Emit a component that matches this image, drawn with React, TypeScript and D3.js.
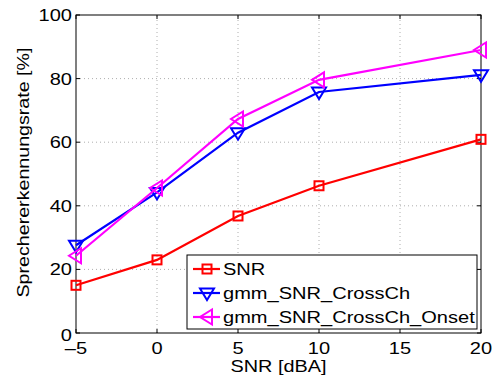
import React from "react";
import * as d3 from "d3";

const xValues = [-5, 0, 5, 10, 20];
const snr = [15.0, 23.0, 36.8, 46.3, 60.9];
const crossCh = [27.6, 44.2, 63.0, 75.8, 81.2];
const onset = [24.3, 45.6, 67.3, 79.6, 89.0];
const xTicks = [-5, 0, 5, 10, 15, 20];
const yTicks = [0, 20, 40, 60, 80, 100];
const seriesNames = ["SNR", "gmm_SNR_CrossCh", "gmm_SNR_CrossCh_Onset"];
const seriesColors = ["#ff0000", "#0000ff", "#ff00ff"];
const seriesMarkers = ["square", "down", "left"];

const W = 497, H = 378;
const M = { left: 76, right: 16, top: 15, bottom: 45 };
const SX = 1.18;
const FS = 17;

function Marker({ type, x, y, color }: { type: string; x: number; y: number; color: string }) {
  if (type === "square") {
    return <rect x={x - 4.5} y={y - 4.5} width={9} height={9} fill="none" stroke={color} strokeWidth={2} />;
  }
  if (type === "down") {
    const p = [[x - 7, y - 4.5], [x + 7, y - 4.5], [x, y + 7]];
    return <polygon points={p.map((q) => q.join(",")).join(" ")} fill="none" stroke={color} strokeWidth={2} />;
  }
  const p = [[x + 5, y - 7.5], [x + 5, y + 7.5], [x - 7, y]];
  return <polygon points={p.map((q) => q.join(",")).join(" ")} fill="none" stroke={color} strokeWidth={2} />;
}

function Txt({ x, y, anchor, children }: { x: number; y: number; anchor?: string; children: any }) {
  return (
    <g transform={`translate(${x},${y}) scale(${SX},1)`}>
      <text x={0} y={0} fontSize={FS} textAnchor={anchor || "start"}>
        {children}
      </text>
    </g>
  );
}

export default function App() {
  const x = d3.scaleLinear().domain([-5, 20]).range([M.left, W - M.right]);
  const y = d3.scaleLinear().domain([0, 100]).range([H - M.bottom, M.top]);
  const data = [snr, crossCh, onset];
  const line = d3
    .line<number>()
    .x((_, i) => x(xValues[i]))
    .y((d) => y(d));
  const x0 = x(-5), x1 = x(20), y0 = y(0), y1 = y(100);
  const font = "'Liberation Sans', Arial, Helvetica, sans-serif";
  const legX = 187, legY = 255, legW = 290, legH = 74;
  return (
    <svg width={W} height={H} style={{ position: "absolute", left: 0, top: 0 }} fontFamily={font}>
      <rect x={0} y={0} width={W} height={H} fill="#fff" />
      {/* grid */}
      {xTicks.slice(1, -1).map((t) => (
        <line key={"gx" + t} x1={x(t)} x2={x(t)} y1={y0} y2={y1} stroke="#999" strokeWidth={0.8} strokeDasharray="1,3" />
      ))}
      {yTicks.slice(1, -1).map((t) => (
        <line key={"gy" + t} x1={x0} x2={x1} y1={y(t)} y2={y(t)} stroke="#999" strokeWidth={0.8} strokeDasharray="1,3" />
      ))}
      {/* ticks */}
      {xTicks.map((t) => (
        <g key={"tx" + t}>
          <line x1={x(t)} x2={x(t)} y1={y0} y2={y0 - 4} stroke="#000" />
          <line x1={x(t)} x2={x(t)} y1={y1} y2={y1 + 4} stroke="#000" />
          <Txt x={x(t)} y={y0 + 21} anchor="middle">
            {t < 0 ? "\u2013" + Math.abs(t) : t}
          </Txt>
        </g>
      ))}
      {yTicks.map((t) => (
        <g key={"ty" + t}>
          <line x1={x0} x2={x0 + 4} y1={y(t)} y2={y(t)} stroke="#000" />
          <line x1={x1} x2={x1 - 4} y1={y(t)} y2={y(t)} stroke="#000" />
          <Txt x={x0 - 4} y={y(t) + (t === 0 ? 7.5 : 6)} anchor="end">
            {t}
          </Txt>
        </g>
      ))}
      <rect x={x0} y={y1} width={x1 - x0} height={y0 - y1} fill="none" stroke="#000" strokeWidth={1} />
      {/* series */}
      {data.map((d, si) => (
        <g key={"s" + si}>
          <path d={line(d) || ""} fill="none" stroke={seriesColors[si]} strokeWidth={2.2} />
          {d.map((v, i) => (
            <Marker key={i} type={seriesMarkers[si]} x={x(xValues[i])} y={y(v)} color={seriesColors[si]} />
          ))}
        </g>
      ))}
      {/* legend */}
      <rect x={legX} y={legY} width={legW} height={legH} fill="#fff" stroke="#000" strokeWidth={1} />
      {seriesNames.map((n, i) => {
        const ly = legY + 14 + i * 24;
        return (
          <g key={"l" + i}>
            <line x1={legX + 6} x2={legX + 33} y1={ly} y2={ly} stroke={seriesColors[i]} strokeWidth={2.2} />
            <Marker type={seriesMarkers[i]} x={legX + 20} y={ly} color={seriesColors[i]} />
            <Txt x={legX + 36} y={ly + 6}>
              {n}
            </Txt>
          </g>
        );
      })}
      {/* axis labels */}
      <text x={278.5} y={372} fontSize={FS} textAnchor="middle" textLength={96} lengthAdjust="spacingAndGlyphs">
        SNR [dBA]
      </text>
      <text
        transform={`translate(29,${(y0 + y1) / 2 - 1.5}) rotate(-90)`}
        fontSize={FS}
        textAnchor="middle"
        textLength={250}
        lengthAdjust="spacingAndGlyphs"
      >
        Sprechererkennungsrate [%]
      </text>
    </svg>
  );
}
